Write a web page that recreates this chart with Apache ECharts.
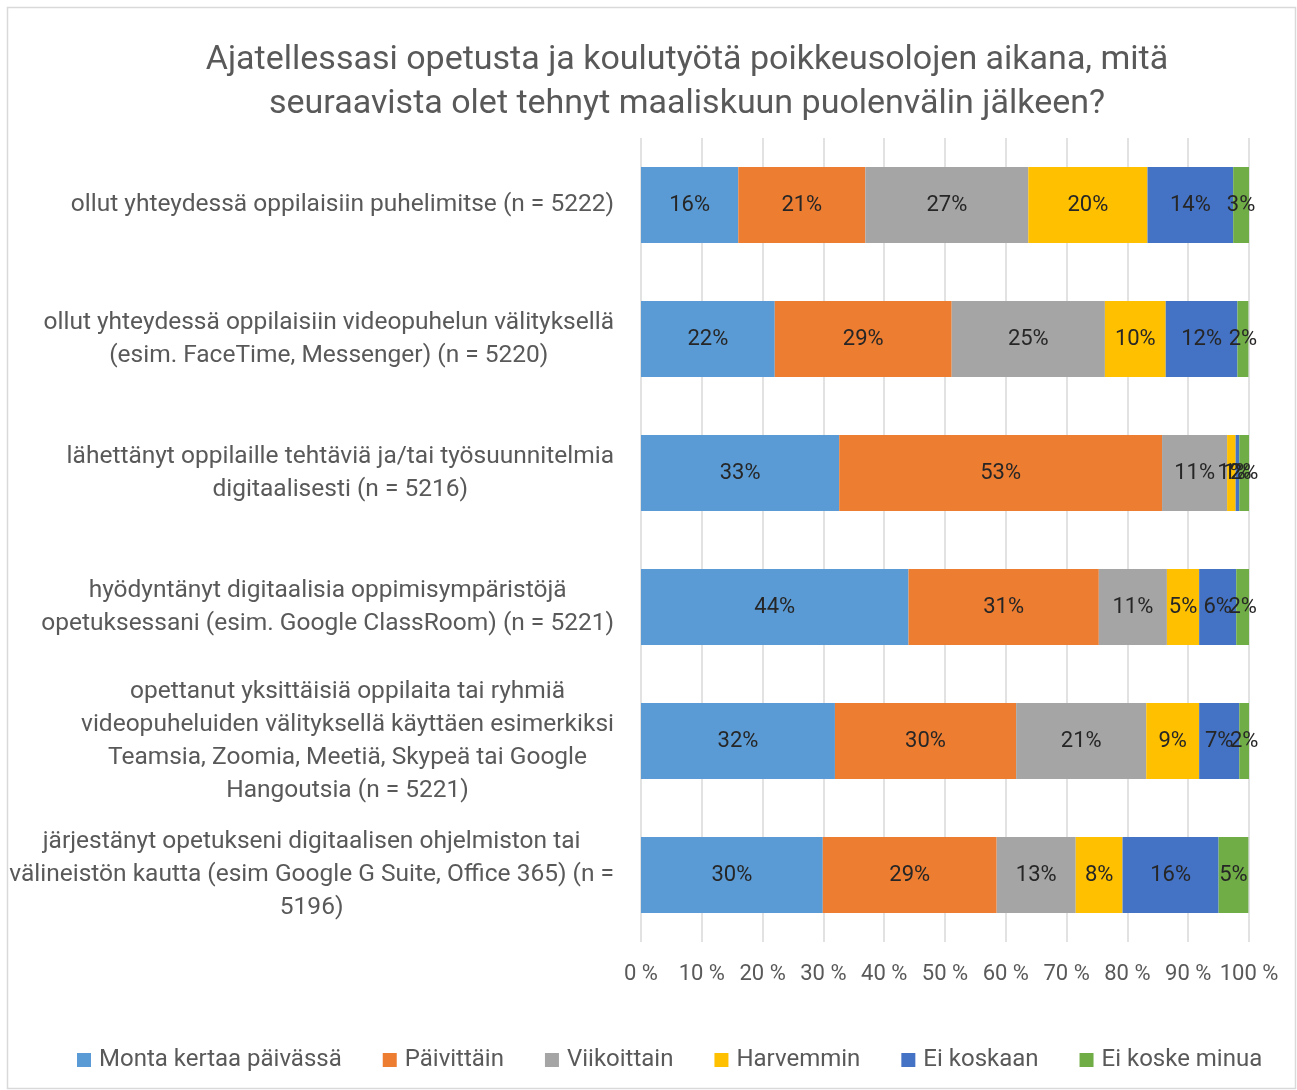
<!DOCTYPE html>
<html>
<head>
<meta charset="utf-8">
<script src="https://cdn.jsdelivr.net/npm/echarts@6/dist/echarts.min.js"></script>
<style>
  html, body { margin: 0; padding: 0; background: #fff; }
  #main { width: 1297px; height: 1090px; }
</style>
</head>
<body>
<div id="main"></div>
<script>
// kysymykset (ylhäältä alas)
var categories = [
  'ollut yhteydessä oppilaisiin puhelimitse (n = 5222)',
  'ollut yhteydessä oppilaisiin videopuhelun välityksellä\n(esim. FaceTime, Messenger) (n = 5220)',
  'lähettänyt oppilaille tehtäviä ja/tai työsuunnitelmia\ndigitaalisesti (n = 5216)',
  'hyödyntänyt digitaalisia oppimisympäristöjä\nopetuksessani (esim. Google ClassRoom) (n = 5221)',
  'opettanut yksittäisiä oppilaita tai ryhmiä\nvideopuheluiden välityksellä käyttäen esimerkiksi\nTeamsia, Zoomia, Meetiä, Skypeä tai Google\nHangoutsia (n = 5221)',
  'järjestänyt opetukseni digitaalisen ohjelmiston tai\nvälineistön kautta (esim Google G Suite, Office 365) (n =\n5196)'
]

// osuudet prosentteina
var montaKertaa = [16.0, 22.0, 32.6, 44.0, 31.9, 29.9]
var paivittain = [20.9, 29.1, 53.1, 31.3, 29.8, 28.6]
var viikoittain = [26.8, 25.2, 10.7, 11.2, 21.4, 13.0]
var harvemmin = [19.6, 10.0, 1.4, 5.3, 8.7, 7.7]
var eiKoskaan = [14.1, 11.8, 0.6, 6.1, 6.6, 15.8]
var eiKoskeMinua = [2.6, 1.8, 1.6, 2.1, 1.6, 4.9]

var seriesNames = ['Monta kertaa päivässä', 'Päivittäin', 'Viikoittain', 'Harvemmin', 'Ei koskaan', 'Ei koske minua']
var seriesData = [montaKertaa, paivittain, viikoittain, harvemmin, eiKoskaan, eiKoskeMinua]
var colors = ['#5B9BD5', '#ED7D31', '#A5A5A5', '#FFC000', '#4472C4', '#70AD47']

var xTicks = [0, 10, 20, 30, 40, 50, 60, 70, 80, 90, 100]

var FONT = 'Roboto'

var myChart = echarts.init(document.getElementById('main'))

var series = seriesNames.map(function (name, i) {
  return {
    name: name,
    type: 'bar',
    stack: 'total',
    barWidth: 76,
    itemStyle: { color: colors[i] },
    label: {
      show: true,
      position: 'inside',
      color: '#262626',
      fontFamily: FONT,
      fontSize: 22,
      formatter: function (p) { return Math.round(p.value) + '%' }
    },
    data: seriesData[i]
  }
})

var options = {
  color: colors,
  title: {
    text: 'Ajatellessasi opetusta ja koulutyötä poikkeusolojen aikana, mitä\nseuraavista olet tehnyt maaliskuun puolenvälin jälkeen?',
    left: 682,
    top: 33,
    textAlign: 'center',
    textStyle: {
      fontFamily: FONT,
      fontWeight: 'normal',
      fontSize: 34,
      lineHeight: 44,
      color: '#595959'
    }
  },
  legend: {
    bottom: 13,
    left: 72,
    itemWidth: 14,
    itemHeight: 14,
    itemGap: 41,
    icon: 'rect',
    textStyle: { fontFamily: FONT, fontSize: 24, color: '#595959', padding: [0, 0, 0, 3] },
    data: seriesNames
  },
  grid: {
    left: 641,
    right: 48,
    top: 138,
    bottom: 148,
    containLabel: false
  },
  xAxis: {
    type: 'value',
    min: xTicks[0],
    max: xTicks[xTicks.length - 1],
    interval: 10,
    axisLine: { show: false },
    axisTick: { show: false },
    splitLine: { show: true, lineStyle: { color: '#D9D9D9', width: 1.5 } },
    axisLabel: {
      margin: 21,
      fontFamily: FONT,
      fontSize: 22,
      color: '#595959',
      formatter: function (v) { return v + ' %' }
    }
  },
  yAxis: {
    type: 'category',
    inverse: true,
    data: categories,
    axisLine: { show: false },
    axisTick: { show: false },
    axisLabel: {
      margin: 27,
      align: 'right',
      formatter: function (v) {
        return v.split('\n').map(function (l) { return '{c|' + l + '}' }).join('\n')
      },
      rich: {
        c: { align: 'center', fontFamily: FONT, fontSize: 24.5, lineHeight: 33, color: '#595959' }
      }
    }
  },
  graphic: [{
    type: 'rect',
    shape: { x: 7.5, y: 7.5, width: 1288, height: 1081 },
    style: { fill: null, stroke: '#D9D9D9', lineWidth: 1.5 },
    silent: true
  }],
  series: series
}

myChart.setOption(options)
</script>
</body>
</html>
